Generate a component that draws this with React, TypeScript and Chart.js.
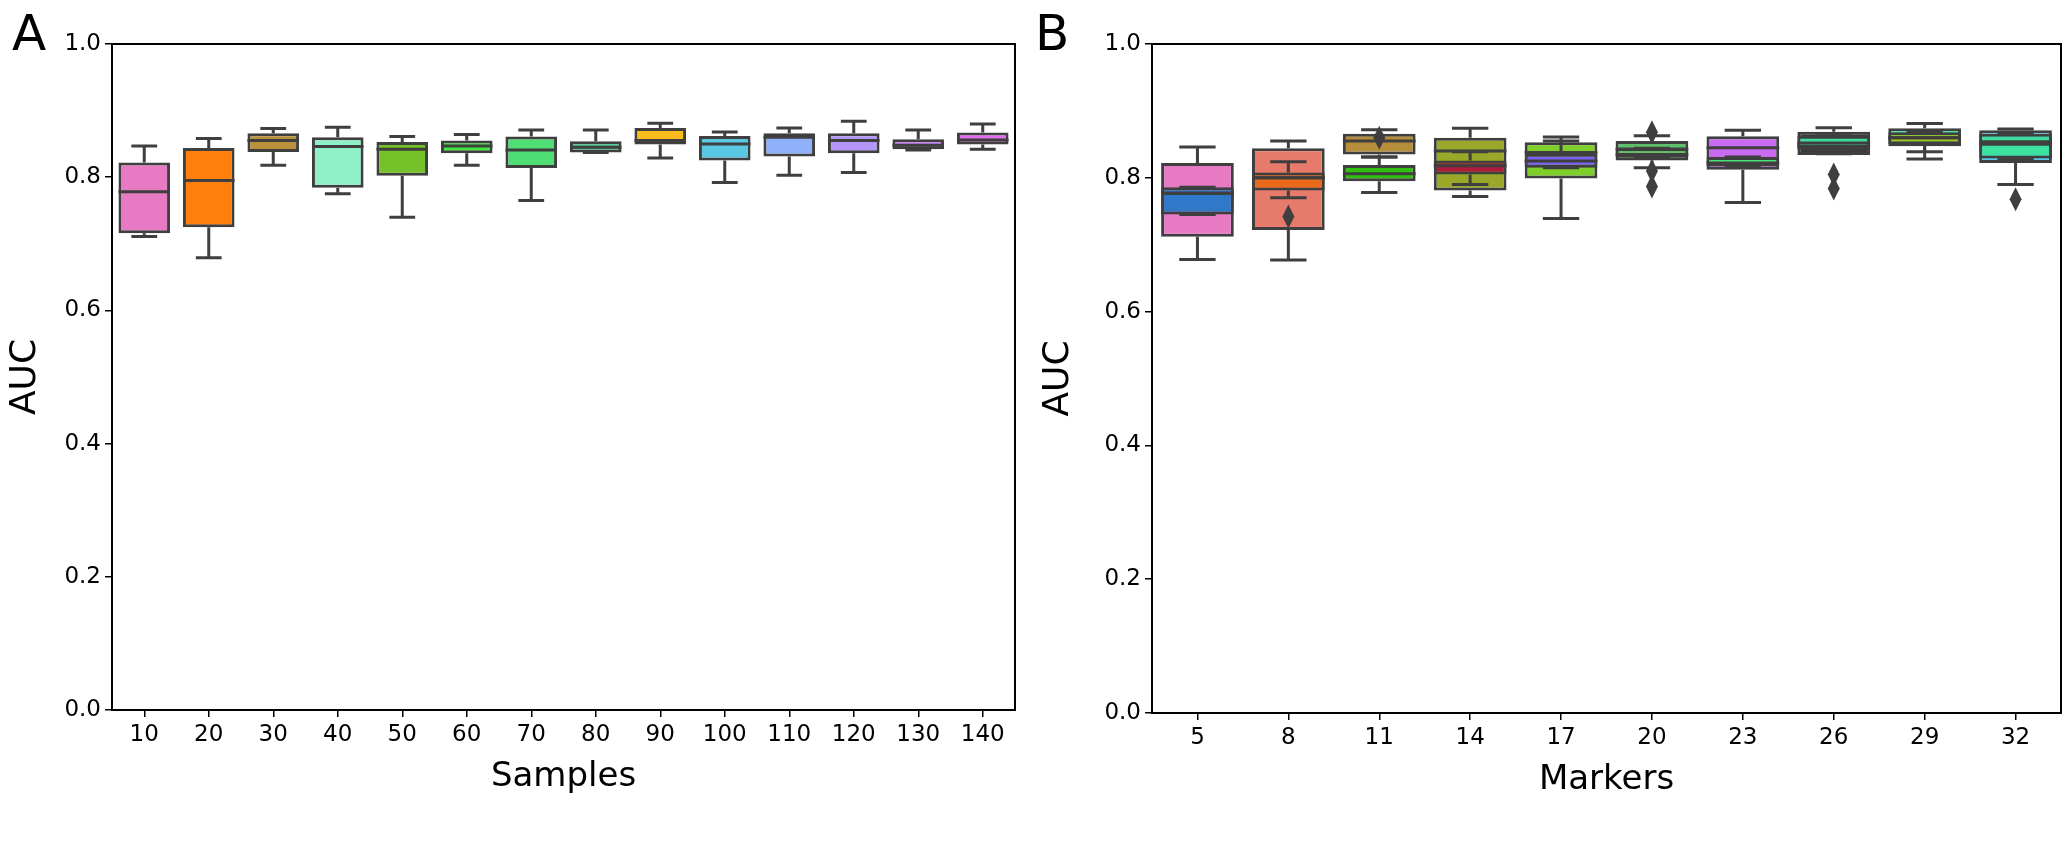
import React, { useEffect, useRef } from "react";
import { Chart, registerables } from "chart.js";
Chart.register(...registerables);

// Panel A
const samplesLabels = ["10","20","30","40","50","60","70","80","90","100","110","120","130","140"];
const aLo  = [0.711,0.679,0.818,0.775,0.740,0.818,0.765,0.837,0.829,0.792,0.803,0.807,0.841,0.842];
const aQ1  = [0.716,0.725,0.838,0.784,0.802,0.836,0.814,0.837,0.849,0.825,0.831,0.836,0.842,0.849];
const aMed = [0.778,0.795,0.855,0.846,0.842,0.847,0.841,0.845,0.855,0.850,0.860,0.855,0.848,0.856];
const aQ3  = [0.822,0.844,0.866,0.860,0.853,0.855,0.861,0.854,0.874,0.862,0.866,0.866,0.857,0.867];
const aHi  = [0.847,0.858,0.873,0.875,0.861,0.864,0.871,0.871,0.881,0.868,0.874,0.884,0.871,0.880];
const aColors = ["#e67ac3","#ff7f0e","#b8913a","#8ff0c8","#74c12a","#3ee83e","#4ede74","#48c38c","#fbbc1b","#5ac8e3","#8fb0fb","#b496fb","#c57ff0","#e46cf0"];

// Panel B
const markersLabels = ["5","8","11","14","17","20","23","26","29","32"];
const bLo  = [0.678,0.677,0.831,0.772,0.739,0.815,0.763,0.836,0.828,0.790];
const bQ1  = [0.712,0.722,0.835,0.781,0.799,0.826,0.812,0.834,0.847,0.822];
const bMed = [0.777,0.800,0.855,0.840,0.838,0.843,0.845,0.847,0.860,0.850];
const bQ3  = [0.822,0.844,0.866,0.860,0.853,0.855,0.862,0.869,0.874,0.871];
const bHi  = [0.846,0.855,0.872,0.874,0.861,0.863,0.871,0.875,0.881,0.873];
const bColors = ["#e67ac3","#e67b6b","#b68e3a","#9aa82a","#7fcf2a","#5fbf6a","#c86bf0","#3a3a3a","#3ee0a0","#5ac8e3"];
const b2Lo  = [0.745,0.770,0.778,0.790,0.815,0.830,0.817,0.842,0.839,0.829];
const b2Q1  = [0.745,0.781,0.795,0.805,0.815,0.830,0.817,0.842,0.850,0.829];
const b2Med = [0.777,0.800,0.806,0.818,0.825,0.835,0.822,0.852,0.860,0.854];
const b2Q3  = [0.786,0.808,0.819,0.826,0.836,0.844,0.831,0.863,0.868,0.866];
const b2Hi  = [0.786,0.824,0.831,0.839,0.855,0.844,0.831,0.863,0.868,0.866];
const b2Colors = ["#2f7ac8","#e86a1a","#32c010","#b0183c","#7b61f2","#6cc06a","#4ce079","#3ee0a0","#a8c81a","#3ee0a0"];
const bOutX = ["8","11","20","20","20","26","26","32"];
const bOutY = [0.742,0.860,0.868,0.810,0.787,0.805,0.784,0.768];

const EDGE = "#3f3f3f";

const boxPlugin = {
  id: "boxes",
  afterDatasetsDraw(chart: any) {
    const ctx = chart.ctx;
    const y = chart.scales.y;
    const sets = chart.data.datasets.map((d: any, i: number) => ({ d, i })).filter((o: any) => o.d.stats)
      .sort((p: any, q: any) => (q.d.order || 0) - (p.d.order || 0));
    ctx.save();
    ctx.strokeStyle = EDGE;
    ctx.lineWidth = 3;
    sets.forEach(({ d, i }: any) => {
      const meta = chart.getDatasetMeta(i);
      const s = d.stats;
      meta.data.forEach((el: any, j: number) => {
        const x = el.x, w = el.width;
        const py = (v: number) => y.getPixelForValue(v);
        ctx.beginPath();
        ctx.moveTo(x, py(s.q3[j])); ctx.lineTo(x, py(s.hi[j]));
        ctx.moveTo(x, py(s.q1[j])); ctx.lineTo(x, py(s.lo[j]));
        ctx.moveTo(x - w / 4, py(s.hi[j])); ctx.lineTo(x + w / 4, py(s.hi[j]));
        ctx.moveTo(x - w / 4, py(s.lo[j])); ctx.lineTo(x + w / 4, py(s.lo[j]));
        ctx.moveTo(x - w / 2, py(s.med[j])); ctx.lineTo(x + w / 2, py(s.med[j]));
        ctx.stroke();
      });
    });
    // outliers as tall diamonds
    chart.data.datasets.forEach((d: any, i: number) => {
      if (!d.outliers) return;
      const meta = chart.getDatasetMeta(i);
      ctx.fillStyle = EDGE;
      meta.data.forEach((el: any) => {
        ctx.beginPath();
        ctx.moveTo(el.x, el.y - 12); ctx.lineTo(el.x + 6, el.y);
        ctx.lineTo(el.x, el.y + 12); ctx.lineTo(el.x - 6, el.y);
        ctx.closePath(); ctx.fill();
      });
    });
    const a = chart.chartArea;
    ctx.strokeStyle = "#000";
    ctx.lineWidth = 2;
    ctx.strokeRect(a.left, a.top, a.right - a.left, a.bottom - a.top);
    ctx.restore();
  },
};

function boxDataset(lo: number[], q1: number[], med: number[], q3: number[], hi: number[], colors: string[], order: number) {
  return {
    type: "bar",
    data: q1.map((v, i) => [v, q3[i]]),
    backgroundColor: colors,
    borderColor: EDGE,
    borderWidth: 3,
    borderSkipped: false,
    grouped: false,
    barPercentage: 0.8,
    categoryPercentage: 1,
    order,
    stats: { lo, q1, med, q3, hi },
  };
}

function makeOptions(xTitle: string, yWidth: number, xHeight: number, padRight: number, padBottom: number) {
  const font = { family: "DejaVu Sans", size: 23 };
  return {
    animation: false,
    responsive: false,
    maintainAspectRatio: false,
    layout: { padding: { top: 44, right: padRight, left: 0, bottom: padBottom } },
    plugins: { legend: { display: false }, tooltip: { enabled: false } },
    scales: {
      x: {
        grid: { offset: false, drawOnChartArea: false, drawTicks: true, tickLength: 7, color: "#000", lineWidth: 1.5 },
        border: { color: "#000", width: 2 },
        ticks: { color: "#000", font, padding: 4 },
        title: { display: true, text: xTitle, color: "#000", font: { family: "DejaVu Sans", size: 34 }, padding: { top: 2 } },
        afterFit: (s: any) => { s.height = xHeight; },
      },
      y: {
        min: 0, max: 1,
        grid: { drawOnChartArea: false, drawTicks: true, tickLength: 7, color: "#000", lineWidth: 1.5 },
        border: { color: "#000", width: 2 },
        ticks: { stepSize: 0.2, color: "#000", font, padding: 4, callback: (v: any) => Number(v).toFixed(1) },
        title: { display: true, text: "AUC", color: "#000", font: { family: "DejaVu Sans", size: 36 }, padding: { bottom: 4 } },
        afterFit: (s: any) => { s.width = yWidth; },
      },
    },
  };
}

export default function App() {
  const refA = useRef<HTMLCanvasElement>(null);
  const refB = useRef<HTMLCanvasElement>(null);
  useEffect(() => {
    const cA = new Chart(refA.current as any, {
      type: "bar",
      data: {
        labels: samplesLabels,
        datasets: [boxDataset(aLo, aQ1, aMed, aQ3, aHi, aColors, 0) as any],
      },
      options: makeOptions("Samples", 112, 92, 18, 60) as any,
      plugins: [boxPlugin],
    });
    const cB = new Chart(refB.current as any, {
      type: "bar",
      data: {
        labels: markersLabels,
        datasets: [
          {
            type: "line",
            data: bOutX.map((x, i) => ({ x, y: bOutY[i] })),
            showLine: false,
            pointRadius: 0,
            outliers: true,
            order: -1,
          } as any,
          boxDataset(b2Lo, b2Q1, b2Med, b2Q3, b2Hi, b2Colors, 0) as any,
          boxDataset(bLo, bQ1, bMed, bQ3, bHi, bColors, 1) as any,
        ],
      },
      options: makeOptions("Markers", 119, 92, 6, 57) as any,
      plugins: [boxPlugin],
    });
    return () => { cA.destroy(); cB.destroy(); };
  }, []);
  const lbl: React.CSSProperties = { position: "absolute", top: 8, fontFamily: "DejaVu Sans", fontSize: 50, lineHeight: "50px", color: "#000" };
  return (
    <div style={{ position: "absolute", left: 0, top: 0, width: 2067, height: 862, background: "#fff" }}>
      <canvas ref={refA} width={1033} height={862} style={{ position: "absolute", left: 0, top: 0 }} />
      <canvas ref={refB} width={1034} height={862} style={{ position: "absolute", left: 1033, top: 0 }} />
      <div style={{ ...lbl, left: 12 }}>A</div>
      <div style={{ ...lbl, left: 1035 }}>B</div>
    </div>
  );
}
